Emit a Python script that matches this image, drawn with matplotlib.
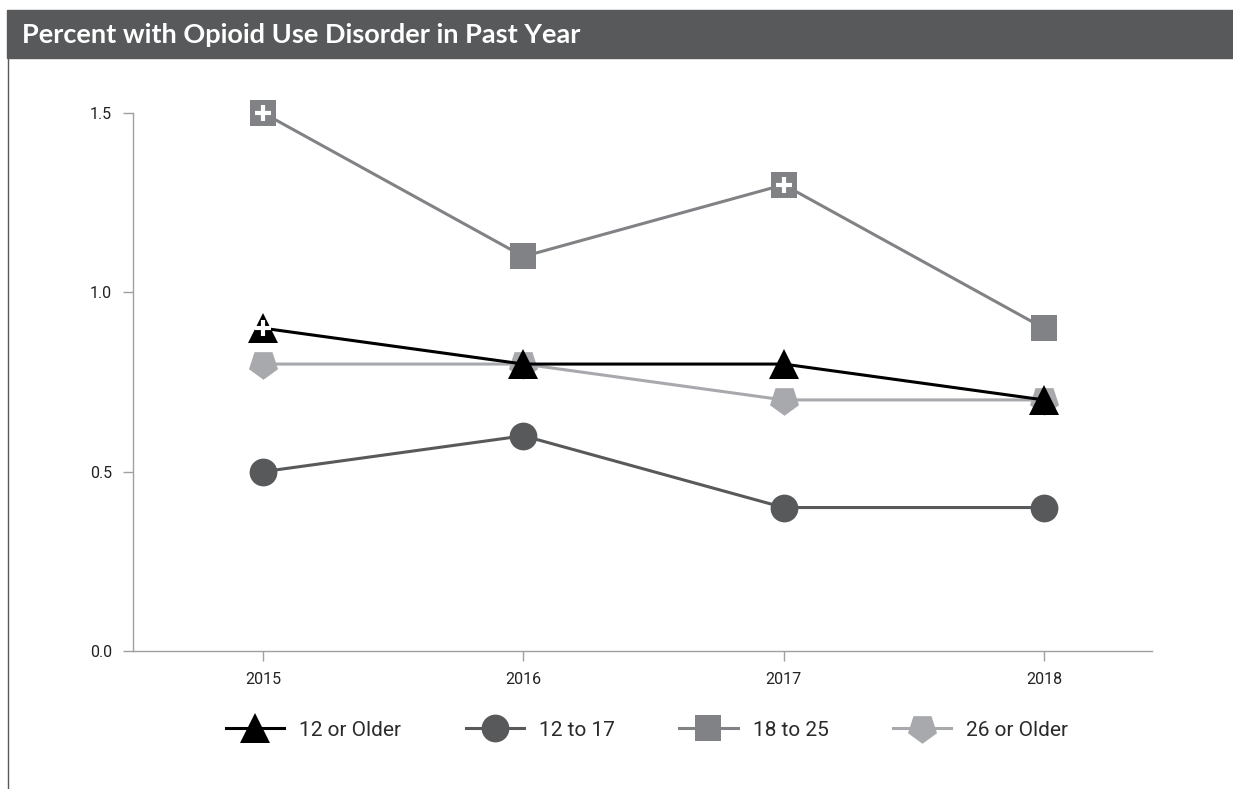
import matplotlib
matplotlib.use("Agg")
import matplotlib.pyplot as plt
from matplotlib.lines import Line2D
from matplotlib.patches import Rectangle

# data
years = [2015, 2016, 2017, 2018]
series_names = ["12 or Older", "12 to 17", "18 to 25", "26 or Older"]
older12 = [0.9, 0.8, 0.8, 0.7]
age12_17 = [0.5, 0.6, 0.4, 0.4]
age18_25 = [1.5, 1.1, 1.3, 0.9]
older26 = [0.8, 0.8, 0.7, 0.7]
# points flagged with a plus (significant difference vs 2018)
sig_older12 = [True, False, False, False]
sig_18_25 = [True, False, True, False]
yticks = [0.0, 0.5, 1.0, 1.5]

tick_font = ["Roboto", "DejaVu Sans"]

fig = plt.figure(figsize=(12.33, 7.89), dpi=100)
fig.patch.set_facecolor("white")

# title bar + left frame line
fig.patches.append(Rectangle((7/1233, 1-58/789), 1-7/1233, 48/789,
                             transform=fig.transFigure, color="#58595b", zorder=0))
fig.add_artist(Line2D([7.5/1233, 7.5/1233], [0, 1-58/789], transform=fig.transFigure,
                      color="#58595b", lw=1))
fig.text(22/1233, 1-35/789, "Percent with Opioid Use Disorder in Past Year",
         color="white", fontsize=19.5, fontweight="bold", family="Lato", va="center")

ax = fig.add_axes([133/1233, 1-651/789, (1152-133)/1233, (651-113)/789])
ax.set_xlim(2014.5, 2018.415)
ax.set_ylim(0, 1.5)

styles = [
    (older12, "black", "^", 21),
    (age12_17, "#58595b", "o", 20),
    (age18_25, "#818285", "s", 19),
    (older26, "#a7a9ac", (5, 0, 180), 22),
]
zorders = [6, 4, 5, 3]
for (vals, col, mk, ms), name, z in zip(styles, series_names, zorders):
    ax.plot(years, vals, color=col, lw=2.2, marker=mk, markersize=ms,
            markeredgewidth=0, label=name, zorder=z, clip_on=False)

for sig, vals in [(sig_older12, older12), (sig_18_25, age18_25)]:
    xs = [y for y, s in zip(years, sig) if s]
    ys = [v for v, s in zip(vals, sig) if s]
    ax.plot(xs, ys, ls="none", marker="+", color="white", markersize=12,
            markeredgewidth=3, zorder=7, clip_on=False)

for s in ["top", "right"]:
    ax.spines[s].set_visible(False)
for s in ["left", "bottom"]:
    ax.spines[s].set_color("#a0a0a0")
    ax.spines[s].set_linewidth(1)

ax.set_xticks(years)
ax.set_xticklabels([str(y) for y in years])
ax.set_yticks(yticks)
ax.set_yticklabels([f"{t:.1f}" for t in yticks])
ax.tick_params(axis="both", colors="#a0a0a0", labelcolor="#222222", length=7, width=1,
               labelsize=11.5)
ax.tick_params(axis="x", pad=8)
ax.tick_params(axis="y", pad=8)
for lab in ax.get_xticklabels() + ax.get_yticklabels():
    lab.set_family(tick_font)

leg = fig.legend(loc="center", bbox_to_anchor=(647/1233, 1-730/789), ncol=4,
                 frameon=False, handlelength=2.8, columnspacing=3.1, handletextpad=0.72,
                 prop={"family": tick_font, "size": 15})
for t in leg.get_texts():
    t.set_color("#2a2a2a")

fig.savefig("out.png", dpi=100, facecolor="white")
